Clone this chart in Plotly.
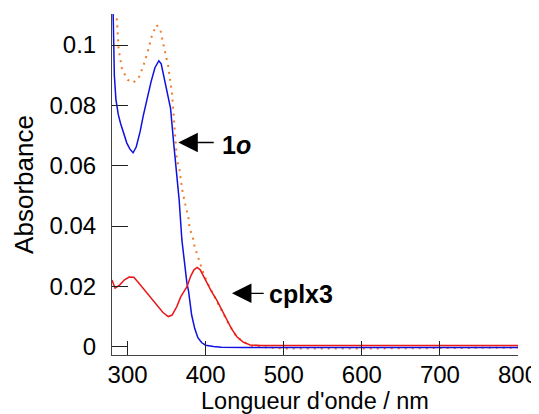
import plotly.graph_objects as go

# ---- data ----
wl_1o = [280, 281.5, 283, 285, 288, 291, 295, 299, 303, 307, 311, 316, 320, 325, 330, 335, 340,
         343, 347, 351, 355, 359, 362.5, 366, 369.5, 373.7, 376, 378, 382, 386, 390, 395, 400,
         410, 420, 450, 500, 550, 600, 650, 700, 750, 800]
abs_1o = [0.13, 0.105, 0.09, 0.082, 0.077, 0.074, 0.0705, 0.0675, 0.0655, 0.0643, 0.0662, 0.0713,
          0.0765, 0.0825, 0.0878, 0.0925, 0.0948, 0.0938, 0.0890, 0.0835, 0.0790, 0.0675, 0.058,
          0.0487, 0.0354, 0.0254, 0.021, 0.0185, 0.0105, 0.006, 0.003, 0.0013, 0.0005,
          0.0001, -0.0002, -0.0003, -0.0003, -0.0002, -0.0002, -0.0001, -0.0003, -0.0003, -0.0003]

wl_cplx3 = [280, 284, 290, 296, 302, 308, 314, 320, 326, 332, 338, 345, 352, 357, 363, 368, 376,
            381, 385, 389, 393, 397, 401.6, 407, 414, 420, 427, 433, 440, 448, 457, 470, 500,
            600, 700, 800]
abs_cplx3 = [0.0221, 0.0194, 0.0205, 0.0222, 0.0231, 0.0230, 0.0212, 0.0193, 0.0172, 0.0152,
             0.0133, 0.0114, 0.0100, 0.0105, 0.0133, 0.0165, 0.0199, 0.0235, 0.0255, 0.0263,
             0.0255, 0.0235, 0.0210, 0.0185, 0.0155, 0.0125, 0.0089, 0.0060, 0.0033, 0.0015,
             0.0006, 0.0004, 0.0004, 0.0004, 0.0004, 0.0004]

wl_sum = [280, 284, 286.4, 288.5, 290.7, 292.8, 300, 307, 314, 320, 326, 331, 337, 342, 346,
          352, 357, 361, 363.2, 366.5, 369.6, 372.6, 375.1, 378, 379.4, 383.2, 385.8, 389.6,
          393, 397, 401.6, 414, 427, 440, 457, 480, 500, 600, 700, 800]
abs_sum = [0.125, 0.115, 0.1078, 0.0986, 0.0951, 0.0920, 0.0885, 0.0875, 0.0890, 0.0930,
           0.0980, 0.1030, 0.1067, 0.1050, 0.1000, 0.0930, 0.0835, 0.0710, 0.0619, 0.0586,
           0.0525, 0.0487, 0.0453, 0.0426, 0.0393, 0.0365, 0.0332, 0.0299, 0.0275, 0.0245,
           0.0215, 0.0152, 0.0087, 0.0031, 0.0003, -0.0003, -0.0006, -0.0006, -0.0004, -0.0003]

x_ticks = [300, 400, 500, 600, 700, 800]
y_ticks = [0, 0.02, 0.04, 0.06, 0.08, 0.1]
y_tick_text = ["0", "0.02", "0.04", "0.06", "0.08", "0.1"]

FONT = "Liberation Sans, Arial, sans-serif"

fig = go.Figure()
fig.add_trace(go.Scatter(x=wl_sum, y=abs_sum, mode="lines",
                         line=dict(color="#F07A28", width=2, dash="2px,5px"),
                         showlegend=False))
fig.add_trace(go.Scatter(x=wl_1o, y=abs_1o, mode="lines",
                         line=dict(color="#1010E0", width=1.5), showlegend=False))
fig.add_trace(go.Scatter(x=wl_cplx3, y=abs_cplx3, mode="lines",
                         line=dict(color="#E81818", width=1.5), showlegend=False))

# arrows
fig.add_annotation(x=364.9, y=0.0677, ax=412.2, ay=0.0677, axref="x", ayref="y",
                   xref="x", yref="y", text="", showarrow=True,
                   arrowhead=2, arrowsize=3, arrowwidth=1.3, arrowcolor="black")
fig.add_annotation(x=418.6, y=0.0669, xref="x", yref="y", text="<b>1<i>o</i></b>",
                   showarrow=False, xanchor="left", yanchor="middle",
                   font=dict(size=25, color="black", family=FONT))
fig.add_annotation(x=433.6, y=0.0177, ax=476.2, ay=0.0177, axref="x", ayref="y",
                   xref="x", yref="y", text="", showarrow=True,
                   arrowhead=2, arrowsize=3, arrowwidth=1.3, arrowcolor="black")
fig.add_annotation(x=478.8, y=0.0175, xref="x", yref="y", text="<b>cplx3</b>",
                   showarrow=False, xanchor="left", yanchor="middle",
                   font=dict(size=25, color="black", family=FONT))

# page body has an 8px margin, so the figure is shrunk by 8px and margins shifted
fig.update_layout(
    width=531, height=406,
    margin=dict(l=104, r=21, t=6, b=59),
    paper_bgcolor="white", plot_bgcolor="white",
    font=dict(family=FONT, size=22, color="black"),
    xaxis=dict(range=[280, 800], tickvals=x_ticks, ticks="inside", ticklen=14,
               tickcolor="#222", tickwidth=1, showgrid=False, zeroline=False,
               showline=True, linecolor="#444", linewidth=1, mirror=False,
               tickfont=dict(size=24), ticklabelstandoff=-2, automargin=False,
               title=dict(text="Longueur d'onde / nm", font=dict(size=23.5), standoff=0)),
    yaxis=dict(range=[-0.00275, 0.1103], tickvals=y_ticks, ticktext=y_tick_text,
               ticks="inside", ticklen=16, tickcolor="#222", tickwidth=1,
               showgrid=False, zeroline=False, showline=True, linecolor="#444",
               linewidth=1, mirror=False, tickfont=dict(size=24), ticklabelstandoff=10,
               automargin=False,
               title=dict(text="Absorbance", font=dict(size=26), standoff=8)),
)

fig.write_html("out.html")
